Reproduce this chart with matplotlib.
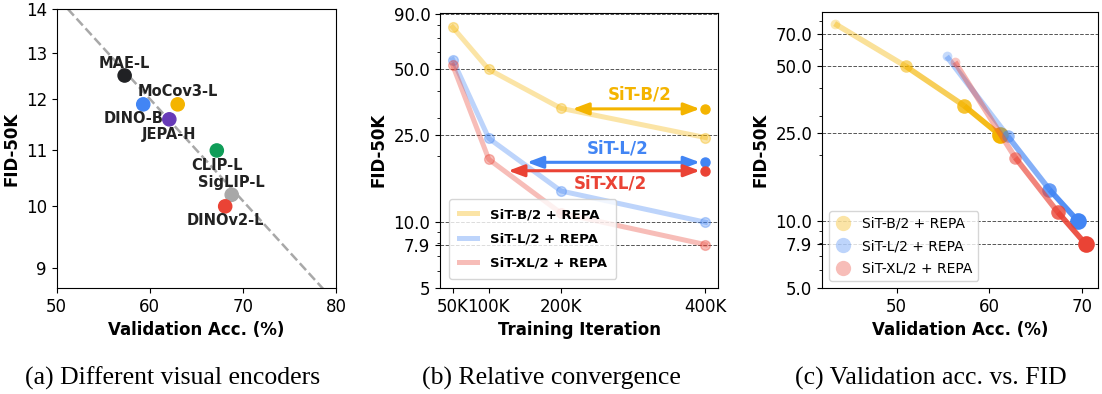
import numpy as np
import matplotlib
matplotlib.use("Agg")
import matplotlib.pyplot as plt
from matplotlib.lines import Line2D

plt.rcParams["font.family"] = ["DejaVu Sans"]

# (a) visual encoders
encoders = ["MAE-L", "DINO-B", "MoCov3-L", "JEPA-H", "CLIP-L", "SigLIP-L", "DINOv2-L"]
enc_acc = [57.3, 59.3, 63.0, 62.1, 67.2, 68.8, 68.1]
enc_fid = [12.5, 11.9, 11.9, 11.6, 11.0, 10.2, 10.0]

# (b) / (c) REPA runs
iters = [50, 100, 200, 400]
iter_labels = ["50K", "100K", "200K", "400K"]
fid_b = [78.0, 50.0, 33.2, 24.4]
fid_l = [55.5, 24.2, 13.9, 10.0]
fid_xl = [52.3, 19.4, 11.0, 7.9]
acc_b = [43.3, 51.0, 57.3, 61.2]
acc_l = [55.4, 62.0, 66.5, 69.6]
acc_xl = [56.3, 62.8, 67.4, 70.4]
series_names = ["SiT-B/2 + REPA", "SiT-L/2 + REPA", "SiT-XL/2 + REPA"]

# vanilla SiT at 400K and where REPA reaches it
vanilla_names = ["SiT-B/2", "SiT-L/2", "SiT-XL/2"]
vanilla_fid = [33.0, 18.8, 17.2]
reach_iter = [216, 153, 127]

yellow, blue, red = "#F4B400", "#4285F4", "#EA4335"
enc_colors = ["#202124", blue, yellow, "#673AB7", "#0F9D58", "#A8A8A8", red]
# label offsets in points (dx, dy)
enc_offsets = [(0, 8.5), (-7, -10), (0, 9), (0, -11), (0, -10.5), (0, 9), (0, -10)]

fig = plt.figure(figsize=(11.02, 3.94), dpi=100)

# ---------- (a)
ax = fig.add_axes([0.0514, 0.269, 0.2535, 0.708])
ax.set_yscale("log")
coef = np.polyfit(enc_acc, np.log10(enc_fid), 1)
xs = np.linspace(50, 80, 50)
ax.plot(xs, 10 ** np.polyval(coef, xs), "--", color="#A8A8A8", lw=1.8, zorder=1)
ax.scatter(enc_acc, enc_fid, s=90, c=enc_colors, zorder=3)
for name, x, y, off in zip(encoders, enc_acc, enc_fid, enc_offsets):
    ax.annotate(name, (x, y), xytext=off, textcoords="offset points",
                ha="center", va="center", fontsize=10.5, fontweight="bold", color="#222222")
ax.set_xlim(50, 80)
ax.set_ylim(8.7, 14)
ax.set_xticks([50, 60, 70, 80])
ax.set_yticks([9, 10, 11, 12, 13, 14])
ax.set_yticklabels(["9", "10", "11", "12", "13", "14"])
ax.minorticks_off()
ax.tick_params(labelsize=12)
ax.set_xlabel("Validation Acc. (%)", fontsize=12, fontweight="bold")
ax.set_ylabel("FID-50K", fontsize=12, fontweight="bold")

# ---------- (b)
ax = fig.add_axes([0.3993, 0.269, 0.2523, 0.699])
ax.set_yscale("log")
for fid, col in zip([fid_b, fid_l, fid_xl], [yellow, blue, red]):
    ax.plot(iters, fid, "-o", color=col, lw=3.6, ms=7, alpha=0.35)
for name, fid, start, col in zip(vanilla_names, vanilla_fid, reach_iter, [yellow, blue, red]):
    ax.annotate("", xy=(iters[-1], fid), xytext=(start, fid),
                arrowprops=dict(arrowstyle="<|-|>,head_length=0.8,head_width=0.3",
                                mutation_scale=12, lw=2.2, color=col,
                                shrinkA=0, shrinkB=4))
    ax.plot(iters[-1], fid, "o", color=col, ms=6.5, zorder=4)
ax.text(309, 38.6, vanilla_names[0], color=yellow, fontsize=12, fontweight="bold", ha="center", va="center")
ax.text(279, 21.8, vanilla_names[1], color=blue, fontsize=12, fontweight="bold", ha="center", va="center")
ax.text(268, 15.0, vanilla_names[2], color=red, fontsize=12, fontweight="bold", ha="center", va="center")
ax.set_ylim(5, 91)
ax.set_yticks([5, 7.9, 10, 25, 50, 90])
ax.set_yticklabels(["5", "7.9", "10.0", "25.0", "50.0", "90.0"])
ax.set_xticks(iters)
ax.set_xticklabels(iter_labels)
ax.tick_params(labelsize=12)
ax.yaxis.grid(True, which="major", linestyle="--", color="#555555", lw=0.7)
ax.set_xlabel("Training Iteration", fontsize=12, fontweight="bold")
ax.set_ylabel("FID-50K", fontsize=12, fontweight="bold")
line_handles = [Line2D([], [], color=c, lw=3.6, alpha=0.35) for c in [yellow, blue, red]]
ax.legend(line_handles, series_names, loc="lower left", prop={"size": 9.5, "weight": "bold"},
          handlelength=1.4, handletextpad=1.0, labelspacing=0.85, borderaxespad=0.7,
          borderpad=0.7)

# ---------- (c)
ax = fig.add_axes([0.746, 0.269, 0.2505, 0.7005])
ax.set_yscale("log")
alphas = [0.3, 0.55, 0.8, 1.0]
sizes = [7, 9, 10.5, 12]
for acc, fid, col in zip([acc_b, acc_l, acc_xl], [fid_b, fid_l, fid_xl], [yellow, blue, red]):
    for i in range(len(acc) - 1):
        ax.plot(acc[i:i + 2], fid[i:i + 2], "-", color=col, lw=4, alpha=alphas[i] + 0.1,
                solid_capstyle="butt")
    for i in range(len(acc)):
        ax.plot(acc[i], fid[i], "o", color=col, ms=sizes[i], alpha=alphas[i], mew=0)
ax.set_ylim(5, 88)
ax.set_yticks([5, 7.9, 10, 25, 50, 70])
ax.set_yticklabels(["5.0", "7.9", "10.0", "25.0", "50.0", "70.0"])
ax.set_xticks([50, 60, 70])
ax.tick_params(labelsize=12)
ax.yaxis.grid(True, which="major", linestyle="--", color="#555555", lw=0.7)
ax.set_xlabel("Validation Acc. (%)", fontsize=12, fontweight="bold")
ax.set_ylabel("FID-50K", fontsize=12, fontweight="bold")
handles = [Line2D([], [], marker="o", ls="", color=c, ms=11, alpha=0.35, mew=0)
           for c in [yellow, blue, red]]
ax.legend(handles, series_names, loc="lower left", fontsize=10, handletextpad=0.8,
          labelspacing=0.6, handlelength=1.2)

# captions
fig.text(173 / 1102, 0.040, "(a) Different visual encoders", family="Liberation Serif",
         fontsize=18.5, ha="center", va="center")
fig.text(551 / 1102, 0.040, "(b) Relative convergence", family="Liberation Serif",
         fontsize=18.5, ha="center", va="center")
fig.text(931 / 1102, 0.040, "(c) Validation acc. vs. FID", family="Liberation Serif",
         fontsize=18.5, ha="center", va="center")

fig.savefig("out.png", dpi=100)
